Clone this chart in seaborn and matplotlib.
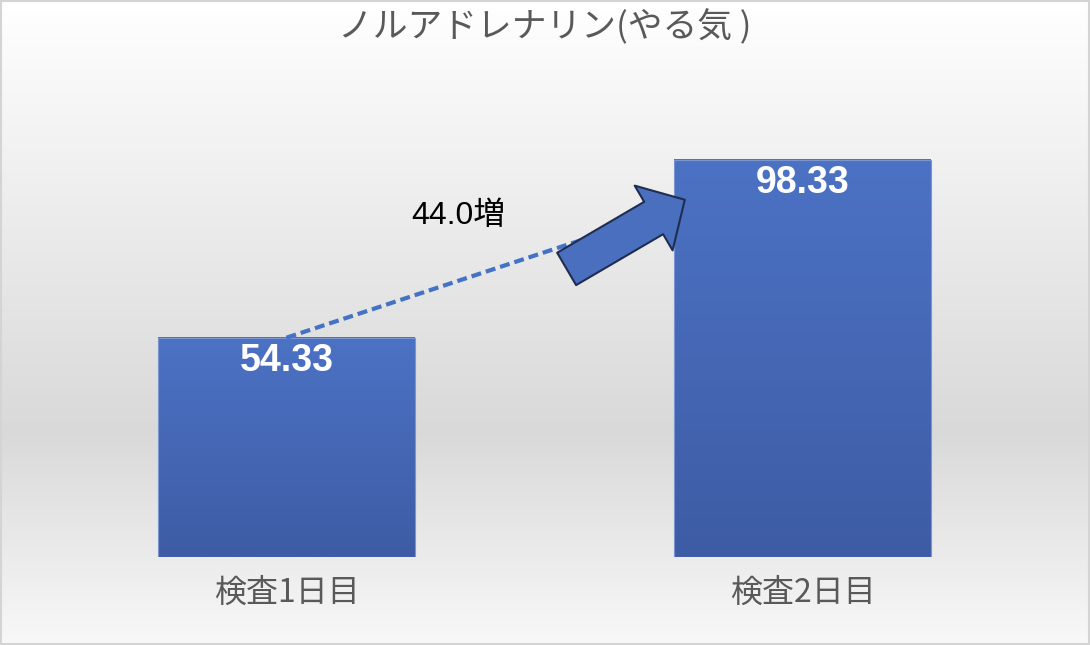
import numpy as np
import matplotlib.pyplot as plt
import seaborn as sns
from matplotlib.colors import LinearSegmentedColormap
from matplotlib.patches import FancyArrowPatch, Rectangle

# Data
categories = ["検査1日目", "検査2日目"]
values = [54.33, 98.33]
title = "ノルアドレナリン(やる気 )"

plt.rcParams['font.family'] = ['Noto Sans CJK JP', 'DejaVu Sans']

fig = plt.figure(figsize=(10.9, 6.45), dpi=100)

# background: vertical grey gradient + thin frame
bg = fig.add_axes([0, 0, 1, 1], zorder=-10)
bg_cmap = LinearSegmentedColormap.from_list(
    "bg", [(0, "#ffffff"), (0.67, "#d9d9d9"), (1, "#f8f8f8")])
bg.imshow(np.linspace(0, 1, 256).reshape(-1, 1), cmap=bg_cmap,
          aspect='auto', extent=[0, 1, 0, 1])
bg.axis('off')
fig.patches.append(Rectangle((0.001, 0.002), 0.998, 0.996, transform=fig.transFigure,
                             fill=False, edgecolor="#d4d4d4", lw=1.5))

ax = fig.add_axes([0.0261, 0.1357, 0.9468, 0.7526])
ax.set_facecolor('none')
sns.barplot(x=categories, y=values, width=0.498, color="#4a6fbe", ax=ax)

# gradient fill for each bar
bar_cmap = LinearSegmentedColormap.from_list("bar", ["#4c72c4", "#3e5ca5"])
for p in ax.patches:
    x0, y0, w, h = p.get_x(), p.get_y(), p.get_width(), p.get_height()
    ax.imshow(np.linspace(0, 1, 100).reshape(-1, 1), cmap=bar_cmap,
              extent=[x0, x0 + w, y0, y0 + h], aspect='auto', zorder=2)
    p.set_facecolor('none')
    p.set_edgecolor('#7a95cf')
    p.set_linewidth(0.8)
    p.set_zorder(2.1)

ax.set_xlim(-0.5, 1.5)
ax.set_ylim(0, 120)
for s in ax.spines.values():
    s.set_visible(False)
ax.set_yticks([])
ax.tick_params(axis='x', length=0, pad=14, labelsize=23, labelcolor='#595959')

# value labels inside bars
for i, v in enumerate(values):
    ax.annotate(f"{v:.2f}", (i, v), xytext=(0, -17), textcoords='offset points',
                ha='center', va='center', color='white', fontsize=27,
                fontweight='bold', family=['Liberation Sans', 'DejaVu Sans'], zorder=5)

# increase annotation: dashed line + block arrow
tail = (0.543, values[0] + 17.0)
tip = (0.772, values[1] - 9.9)
ax.plot([0, tip[0]], [values[0], tip[1] - 1.5], ls=(0, (2.4, 1.2)),
        color="#4472c4", lw=3, zorder=3)
arrow = FancyArrowPatch(posA=tail, posB=tip,
                        arrowstyle="simple,head_length=26,head_width=54,tail_width=27",
                        mutation_scale=1, fc="#4a6fbe", ec="#1f2d50", lw=1.5,
                        shrinkA=0, shrinkB=0, zorder=4)
ax.add_patch(arrow)
ax.text(0.334, 84.3, f"{values[1] - values[0]:.1f}増", fontsize=23,
        ha='center', va='center', color='black',
        family=['Liberation Sans', 'Noto Sans CJK JP'])

fig.text(0.5, 1 - 28 / 645, title, ha='center', va='center',
         fontsize=25, color='#595959')

fig.savefig('out.png', dpi=100)
